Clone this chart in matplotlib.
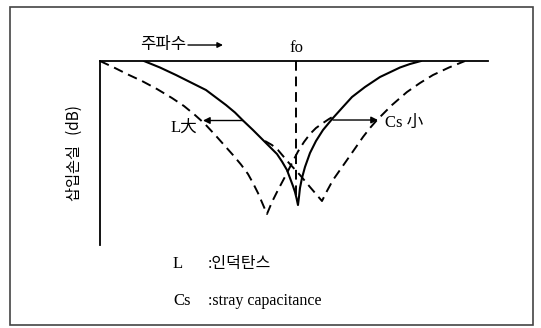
import matplotlib
matplotlib.use('Agg')
import matplotlib.pyplot as plt
from matplotlib.patches import Rectangle

plt.rcParams['font.family'] = ['Liberation Serif', 'Noto Sans CJK KR', 'DejaVu Sans']

# frequency (arbitrary units) and insertion loss (arbitrary dB scale, 0 at top)
solid_f = [44, 60, 76, 91, 106, 116, 126, 135, 143, 153, 163, 170, 177, 182, 187,
           190, 193, 195, 196.5, 198,
           199, 200, 202, 205, 210, 216, 223, 233, 242, 252, 265, 280, 300, 310, 321]
solid_db = [0, 6.5, 14, 21.5, 29, 36.5, 44, 51.5, 59.5, 69, 79, 86, 93, 100.5, 109,
            117, 125, 131, 137, 144,
            136, 127, 117, 106, 92, 80, 69, 57, 47, 36, 26, 16, 6.5, 3, 0]

# L large -> resonance moves down in frequency
l_big_f = [0, 15, 28, 42, 57, 72, 84, 95, 105, 117, 125, 133, 141, 148, 153, 158, 162.5, 167,
           172, 178, 187, 192, 198, 204, 210, 216, 223, 229, 235]
l_big_db = [0, 7, 13.5, 20, 28, 37, 45, 54, 63, 76, 85, 94, 103.5, 113, 122, 132, 142.5, 153,
            141, 129, 112, 102, 90.5, 81, 73, 67, 62, 58, 54.5]

# Cs small -> resonance moves up in frequency
cs_small_f = [165, 172, 178, 189, 200, 210, 216, 222,
              227, 233, 240, 247, 255, 263, 270, 277, 292, 307, 320, 333, 349, 365]
cs_small_db = [80, 84, 89, 102, 114, 126, 133, 140,
               130, 119, 109, 99, 87.5, 76, 67, 59, 44, 31, 22, 14, 6.5, 0]

f0 = 196
f0_depth = 139

legend_symbols = ['L', 'Cs']
legend_desc = [':인덕탄스', ':stray capacitance']

fig = plt.figure(figsize=(5.41, 3.28), dpi=100)
fig.add_artist(Rectangle((0.0185, 0.009), 0.9667, 0.9695, transform=fig.transFigure,
                         fill=False, edgecolor='#444444', linewidth=1.2))

ax = fig.add_axes([0.1848, 0.2530, 0.7172, 0.5610])
ax.set_xlim(0, 388)
ax.set_ylim(184, 0)
for side in ['right', 'bottom']:
    ax.spines[side].set_visible(False)
ax.spines['left'].set_linewidth(1.3)
ax.spines['top'].set_linewidth(1.3)
ax.set_xticks([])
ax.set_yticks([])

dash = (5, 3)
ax.plot(solid_f, solid_db, color='black', lw=1.5, solid_joinstyle='round')
ax.plot(l_big_f, l_big_db, color='black', lw=1.4, ls=(0, dash))
ax.plot(cs_small_f, cs_small_db, color='black', lw=1.4, ls=(0, dash))
ax.plot([f0, f0], [0, f0_depth], color='black', lw=1.4, ls=(0, dash))

arrow = dict(arrowstyle='-|>', color='black', lw=1.0, mutation_scale=10,
             shrinkA=0, shrinkB=0)
ax.annotate('', xy=(103, 59.5), xytext=(143, 59.5), arrowprops=arrow)
ax.annotate('', xy=(278, 59), xytext=(233, 59), arrowprops=arrow)

ax.text(71, 67, 'L大', fontsize=12, ha='left', va='center')
ax.text(285, 62, 'Cs 小', fontsize=12, ha='left', va='center')

ax.text(40, -17, '주파수', fontsize=12, ha='left', va='center',
        family=['Noto Sans CJK KR', 'DejaVu Sans'], clip_on=False)
ax.annotate('', xy=(123, -16), xytext=(88, -16), annotation_clip=False,
            arrowprops=dict(arrowstyle='-|>', color='black', lw=1.0,
                            mutation_scale=8, shrinkA=0, shrinkB=0))
ax.text(f0, -13, 'fo', fontsize=12, ha='center', va='center', clip_on=False)

ax.set_ylabel('삽입손실   (dB)', fontsize=11, labelpad=12,
              family=['Noto Sans CJK KR', 'DejaVu Sans'])

for i, (sym, desc) in enumerate(zip(legend_symbols, legend_desc)):
    y = 203 + 37 * i
    ax.text(73, y, sym, fontsize=12, ha='left', va='center', clip_on=False)
    ax.text(108, y, desc, fontsize=11.5, ha='left', va='center', clip_on=False)

fig.savefig('out.png', dpi=100)
